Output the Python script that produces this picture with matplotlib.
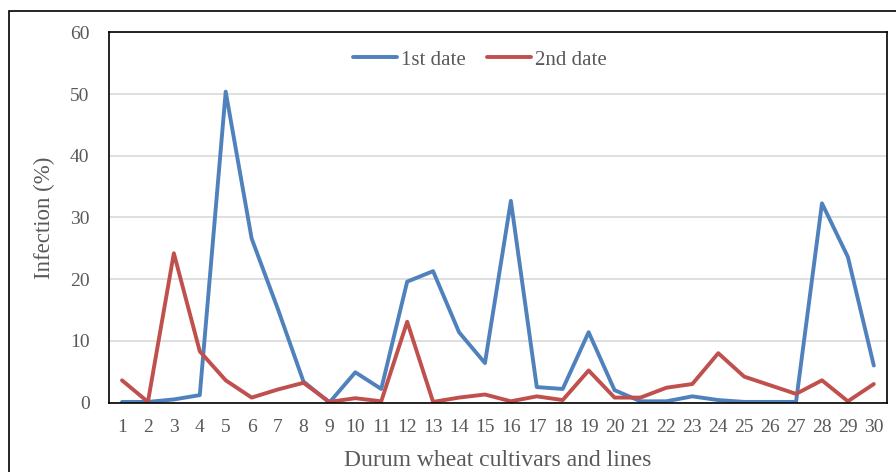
import matplotlib
matplotlib.use("Agg")
import matplotlib.pyplot as plt
from matplotlib.patches import Rectangle

# data
cultivars = list(range(1, 31))
first_date = [0.1, 0.1, 0.5, 1.2, 50.4, 26.6, 15.3, 3.4, 0.0, 4.9,
              2.2, 19.6, 21.3, 11.4, 6.4, 32.7, 2.5, 2.2, 11.4, 2.0,
              0.2, 0.2, 1.0, 0.4, 0.1, 0.1, 0.1, 32.3, 23.6, 6.0]
second_date = [3.6, 0.1, 24.2, 8.3, 3.6, 0.8, 2.1, 3.2, 0.1, 0.7,
               0.2, 13.1, 0.1, 0.8, 1.3, 0.2, 1.0, 0.4, 5.2, 0.8,
               0.8, 2.4, 3.0, 8.0, 4.2, 2.8, 1.4, 3.6, 0.2, 3.0]

plt.rcParams['font.family'] = ['Liberation Serif', 'DejaVu Serif']
grey = '#595959'

fig = plt.figure(figsize=(8.96, 4.72), dpi=100)
ax = fig.add_axes([0.1217, 0.1472, 0.868, 0.784])

# outer frame of the figure (cut at right and bottom)
fig.patches.append(Rectangle((9/896, -0.1), 1.2, 0.1 + 1 - 11/472,
                             transform=fig.transFigure, fill=False,
                             edgecolor='black', linewidth=1.2))

ax.plot(cultivars, first_date, color='#4f81bd', lw=2.8, label='1st date',
        solid_joinstyle='round', solid_capstyle='round')
ax.plot(cultivars, second_date, color='#c0504d', lw=2.8, label='2nd date',
        solid_joinstyle='round', solid_capstyle='round')

ax.set_xlim(0.5, 30.5)
ax.set_ylim(0, 60)
ax.set_xticks(cultivars)
ax.set_yticks(range(0, 61, 10))
ax.yaxis.grid(True, color='#d9d9d9', lw=1.2)
ax.set_axisbelow(True)
ax.tick_params(length=0, labelsize=14, labelcolor=grey)
ax.tick_params(axis='y', pad=14)
ax.tick_params(axis='x', pad=12)
for s in ax.spines.values():
    s.set_color('black')
    s.set_linewidth(1.2)

ax.set_xlabel('Durum wheat cultivars and lines', fontsize=17, color=grey, labelpad=10)
ax.set_ylabel('Infection (%)', fontsize=16.5, color=grey, labelpad=11)

leg = ax.legend(loc='center', bbox_to_anchor=(0.477, 0.926), ncol=2,
                frameon=False, fontsize=15, handlelength=2.1,
                handletextpad=0.2, columnspacing=1.0)
for t in leg.get_texts():
    t.set_color(grey)

fig.savefig('out.png', dpi=100)
